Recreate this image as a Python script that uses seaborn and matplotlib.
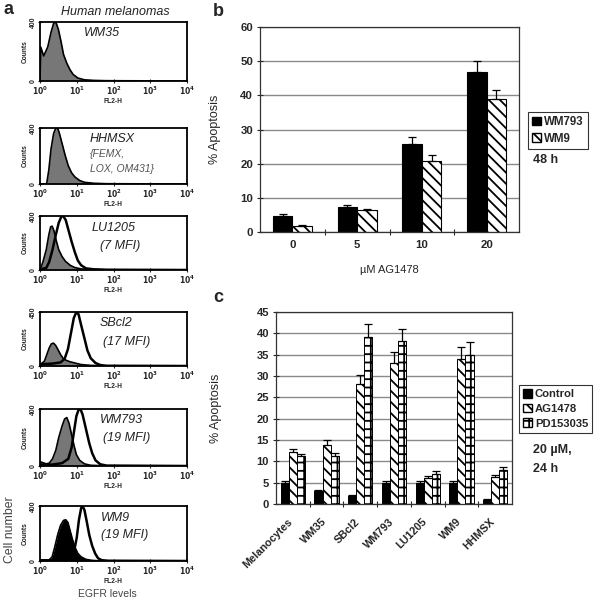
import numpy as np
import pandas as pd
import seaborn as sns
import matplotlib.pyplot as plt
import matplotlib.transforms as mtransforms
from matplotlib.patches import Patch

# ---- panel a: flow histograms (log10 FL2-H, counts) ----
wm35_fill_lx = [0, 0.02, 0.10, 0.21, 0.30, 0.37, 0.43, 0.50, 0.57, 0.64, 0.73, 0.82, 0.90, 1.03, 1.21, 1.47, 1.81, 4.0]
wm35_fill_ct = [0, 230, 170, 230, 330, 390, 400, 350, 270, 180, 120, 75, 45, 20, 8, 4, 2, 0]

hhmsx_fill_lx = [0, 0.18, 0.24, 0.30, 0.37, 0.43, 0.48, 0.53, 0.60, 0.69, 0.77, 0.86, 0.95, 1.08, 1.21, 1.47, 1.81, 4.0]
hhmsx_fill_ct = [0, 0, 100, 250, 360, 400, 400, 360, 290, 200, 130, 80, 50, 25, 12, 5, 2, 0]

lu1205_fill_lx = [0, 0.08, 0.17, 0.24, 0.29, 0.33, 0.38, 0.44, 0.51, 0.60, 0.69, 0.82, 0.95, 1.12, 1.38, 1.81, 4.0]
lu1205_fill_ct = [0, 60, 150, 260, 320, 325, 290, 220, 150, 100, 65, 35, 18, 8, 4, 1, 0]
lu1205_open_lx = [0, 0.17, 0.25, 0.34, 0.43, 0.51, 0.58, 0.63, 0.70, 0.77, 0.86, 0.95, 1.03, 1.12, 1.25, 1.47, 1.81, 4.0]
lu1205_open_ct = [5, 15, 60, 150, 260, 350, 395, 400, 370, 300, 210, 130, 70, 35, 12, 5, 2, 0]

sbcl2_fill_lx = [0, 0.12, 0.18, 0.25, 0.31, 0.37, 0.43, 0.50, 0.57, 0.64, 0.73, 0.82, 0.95, 1.12, 1.38, 1.81, 4.0]
sbcl2_fill_ct = [10, 40, 90, 150, 185, 190, 170, 130, 90, 60, 45, 35, 25, 12, 5, 1, 0]
sbcl2_open_lx = [0, 0.34, 0.56, 0.67, 0.76, 0.84, 0.92, 0.99, 1.05, 1.12, 1.21, 1.29, 1.38, 1.51, 1.64, 1.81, 4.0]
sbcl2_open_ct = [15, 20, 30, 60, 140, 270, 400, 450, 430, 340, 230, 130, 65, 25, 8, 2, 0]

wm793_fill_lx = [0, 0.17, 0.25, 0.34, 0.43, 0.51, 0.60, 0.67, 0.73, 0.79, 0.86, 0.93, 0.99, 1.08, 1.21, 1.38, 1.81, 4.0]
wm793_fill_ct = [30, 15, 20, 50, 110, 200, 280, 330, 340, 300, 220, 140, 80, 40, 15, 5, 1, 0]
wm793_open_lx = [0, 0.34, 0.60, 0.77, 0.86, 0.93, 0.99, 1.05, 1.10, 1.16, 1.25, 1.34, 1.42, 1.51, 1.64, 1.81, 4.0]
wm793_open_ct = [10, 10, 20, 50, 130, 250, 350, 395, 400, 360, 260, 160, 90, 40, 12, 3, 0]

wm9_fill_lx = [0, 0.25, 0.33, 0.40, 0.48, 0.56, 0.64, 0.70, 0.76, 0.82, 0.88, 0.95, 1.03, 1.12, 1.25, 1.40, 1.60, 4.0]
wm9_fill_ct = [5, 8, 30, 100, 190, 260, 295, 300, 280, 220, 160, 100, 55, 30, 12, 5, 1, 0]
wm9_open_lx = [0, 0.50, 0.80, 0.92, 1.00, 1.06, 1.12, 1.16, 1.21, 1.27, 1.34, 1.42, 1.50, 1.58, 1.68, 1.85, 4.0]
wm9_open_ct = [5, 5, 20, 60, 170, 300, 385, 400, 370, 290, 190, 110, 55, 20, 6, 2, 0]

# ---- panel b ----
doses = ['0', '5', '10', '20']
wm793_apo = [4.8, 7.4, 25.9, 46.8]
wm793_err = [0.4, 0.6, 1.8, 3.3]
wm9_apo = [1.9, 6.4, 20.9, 39.0]
wm9_err = [0.1, 0.4, 1.5, 2.7]

# ---- panel c ----
cell_lines = ['Melanocytes', 'WM35', 'SBcl2', 'WM793', 'LU1205', 'WM9', 'HHMSX']
control = [5.0, 3.1, 1.8, 5.0, 5.0, 5.0, 1.0]
control_err = [0.3, 0.2, 0.2, 0.3, 0.3, 0.3, 0.2]
ag1478 = [12.1, 13.9, 28.1, 33.0, 6.2, 34.1, 6.3]
ag1478_err = [0.8, 1.1, 2.2, 2.6, 0.4, 2.8, 0.4]
pd153035 = [11.2, 11.2, 39.1, 38.1, 7.1, 35.0, 8.0]
pd153035_err = [0.6, 0.8, 3.2, 2.9, 0.6, 3.0, 0.7]

W, H = 594, 601
sns.set_theme(style='white')
plt.rcParams['font.family'] = ['Liberation Sans', 'DejaVu Sans']
plt.rcParams['hatch.linewidth'] = 1.3
plt.rcParams['hatch.color'] = 'black'

fig = plt.figure(figsize=(W / 100, H / 100), dpi=100)


def box(l, t, r, b):
    # pixel box -> figure fraction rect
    return [l / W, 1 - b / H, (r - l) / W, (b - t) / H]


def ftext(x, y, s, **kw):
    kw.setdefault('va', 'center')
    fig.text(x / W, 1 - y / H, s, **kw)


# ---------------- panel a ----------------
hist_rows = [(22, 81), (128, 184), (216, 270), (312, 366), (409, 466), (506, 561)]
hists = [
    (wm35_fill_lx, wm35_fill_ct, None, None, '#777777', 400),
    (hhmsx_fill_lx, hhmsx_fill_ct, None, None, '#777777', 400),
    (lu1205_fill_lx, lu1205_fill_ct, lu1205_open_lx, lu1205_open_ct, '#777777', 400),
    (sbcl2_fill_lx, sbcl2_fill_ct, sbcl2_open_lx, sbcl2_open_ct, '#777777', 450),
    (wm793_fill_lx, wm793_fill_ct, wm793_open_lx, wm793_open_ct, '#777777', 400),
    (wm9_fill_lx, wm9_fill_ct, wm9_open_lx, wm9_open_ct, 'black', 400),
]
decades = [1, 10, 100, 1000, 10000]
for (t, b), (flx, fct, olx, oct_, fc, ymax) in zip(hist_rows, hists):
    ax = fig.add_axes(box(40, t, 187, b))
    fx = 10 ** np.array(flx)
    ax.fill_between(fx, fct, color=fc, lw=0)
    sns.lineplot(x=fx, y=fct, color='black', lw=1.2, ax=ax, sort=False)
    if olx is not None:
        sns.lineplot(x=10 ** np.array(olx), y=oct_, color='black', lw=1.8, ax=ax, sort=False)
    ax.set_xscale('log')
    ax.set_xlim(1, 1e4)
    ax.set_ylim(0, ymax)
    ax.set_xticks(decades)
    ax.set_xticklabels([r'$\mathbf{10^{%d}}$' % k for k in range(5)], fontsize=5.5)
    ax.set_yticks([0, ymax])
    ax.set_yticklabels(['0', str(ymax)], rotation=90, va='center', fontsize=5, fontweight='bold')
    ax.tick_params(axis='x', which='major', length=2.5, width=0.8, pad=1, direction='inout')
    ax.tick_params(axis='x', which='minor', length=1.5, width=0.6, direction='in')
    ax.tick_params(axis='y', length=2.5, width=0.8, pad=1, direction='inout')
    ax.tick_params(bottom=True, left=True)
    ax.tick_params(axis='x', which='minor', bottom=True)
    ax.set_xlabel('FL2-H', fontsize=4.8, fontweight='bold', labelpad=1)
    ax.set_ylabel('Counts', fontsize=4.8, fontweight='bold', labelpad=1)
    for s in ax.spines.values():
        s.set_color('black')
        s.set_linewidth(1.3)

lab = dict(style='italic', fontsize=9, color='#222222', ha='left')
ftext(84, 33, 'WM35', **lab)
ftext(90, 139, 'HHMSX', **lab)
ftext(90, 154, '{FEMX,', style='italic', fontsize=7.5, color='#555555', ha='left')
ftext(90, 169, 'LOX, OM431}', style='italic', fontsize=7.5, color='#555555', ha='left')
ftext(92, 228, 'LU1205', **lab)
ftext(100, 246, '(7 MFI)', **lab)
ftext(100, 323, 'SBcl2', **lab)
ftext(103, 342, '(17 MFI)', **lab)
ftext(100, 420, 'WM793', **lab)
ftext(103, 438, '(19 MFI)', **lab)
ftext(101, 518, 'WM9', **lab)
ftext(101, 535, '(19 MFI)', **lab)

ftext(115, 12, 'Human melanomas', style='italic', fontsize=9, ha='center', color='#222222')
ftext(10, 530, 'Cell number', rotation=90, fontsize=8.8, ha='center', color='#444444')
ftext(107, 594, 'EGFR levels', fontsize=7.5, ha='center', color='#444444')
ftext(9, 10, 'a', fontsize=13, fontweight='bold', ha='center')
ftext(218, 12, 'b', fontsize=13, fontweight='bold', ha='center')
ftext(218, 298, 'c', fontsize=13, fontweight='bold', ha='center')


def style_bar_axes(ax, ncat, ymax, ystep):
    ax.set_xlim(-0.5, ncat - 0.5)
    ax.set_ylim(0, ymax)
    ax.set_yticks(np.arange(0, ymax + 0.1, ystep))
    ax.yaxis.grid(True, color='#8a8a8a', lw=1)
    ax.set_axisbelow(True)
    ax.set_xticks(np.arange(0.5, ncat - 0.5), minor=True)
    ax.tick_params(axis='x', which='major', length=0, pad=6)
    ax.tick_params(axis='x', which='minor', length=4, width=0.8, direction='inout', bottom=True)
    ax.tick_params(axis='y', length=4, width=0.8, direction='inout', left=True, pad=3)
    for s in ax.spines.values():
        s.set_color('#333333')
        s.set_linewidth(0.9)
    for lbl in ax.get_yticklabels() + ax.get_xticklabels():
        lbl.set_fontweight('bold')


def add_errbars(ax, errs_list):
    for cont, errs in zip(ax.containers, errs_list):
        xs = [p.get_x() + p.get_width() / 2 for p in cont]
        ys = [p.get_height() for p in cont]
        ax.errorbar(xs, ys, yerr=[np.zeros(len(errs)), errs], fmt='none',
                    ecolor='black', elinewidth=0.9, capsize=2.8, capthick=0.9)


def box_legend(handles, x, y, size):
    leg = fig.legend(handles=handles, loc='upper left', bbox_to_anchor=(x / W, 1 - y / H),
                     frameon=True, fancybox=False, edgecolor='black',
                     handlelength=0.8, handleheight=0.8, handletextpad=0.25,
                     borderpad=0.35, labelspacing=0.4, borderaxespad=0,
                     prop={'weight': 'bold', 'size': size})
    leg.get_frame().set_linewidth(0.8)
    return leg


# ---------------- panel b ----------------
axb = fig.add_axes(box(260, 27, 519, 232))
df_b = pd.DataFrame({'dose': doses * 2,
                     'line': ['WM793'] * 4 + ['WM9'] * 4,
                     'value': wm793_apo + wm9_apo})
sns.barplot(data=df_b, x='dose', y='value', hue='line', order=doses,
            palette=['black', 'white'], edgecolor='black', linewidth=0.8,
            width=0.6, errorbar=None, legend=False, ax=axb)
for p in axb.containers[1]:
    p.set_hatch('\\\\\\')
add_errbars(axb, [wm793_err, wm9_err])
style_bar_axes(axb, 4, 60, 10)
axb.tick_params(labelsize=8.2)
axb.set_ylabel('% Apoptosis', fontsize=9)
axb.yaxis.set_label_coords(-0.15, 0.5)
axb.set_xlabel('\u00b5M AG1478', fontsize=8)
axb.xaxis.set_label_coords(0.5, -0.16)

box_legend([Patch(facecolor='black', edgecolor='black', label='WM793'),
            Patch(facecolor='white', edgecolor='black', hatch='\\\\\\', label='WM9')],
           528, 112, 8.3)
ftext(533, 160, '48 h', fontsize=9, fontweight='bold', ha='left')

# ---------------- panel c ----------------
axc = fig.add_axes(box(276, 312, 512, 504))
df_c = pd.DataFrame({'cell': cell_lines * 3,
                     'treat': ['Control'] * 7 + ['AG1478'] * 7 + ['PD153035'] * 7,
                     'value': control + ag1478 + pd153035})
sns.barplot(data=df_c, x='cell', y='value', hue='treat', order=cell_lines,
            palette=['black', 'white', 'white'], edgecolor='black', linewidth=0.7,
            width=0.72, errorbar=None, legend=False, ax=axc)
for p in axc.containers[1]:
    p.set_hatch('\\\\\\')
for p in axc.containers[2]:
    p.set_hatch('++')
add_errbars(axc, [control_err, ag1478_err, pd153035_err])
style_bar_axes(axc, 7, 45, 5)
axc.tick_params(labelsize=8)
axc.set_xticks(range(7))
axc.set_xticklabels(cell_lines, rotation=45, ha='right', rotation_mode='anchor',
                    fontweight='bold', fontsize=7.8)
shift = mtransforms.ScaledTranslation(-4 / 72, -3 / 72, fig.dpi_scale_trans)
for lbl in axc.get_xticklabels():
    lbl.set_transform(lbl.get_transform() + shift)
axc.set_xlabel('')
axc.set_ylabel('% Apoptosis', fontsize=9)
axc.yaxis.set_label_coords(-0.23, 0.5)

box_legend([Patch(facecolor='black', edgecolor='black', label='Control'),
            Patch(facecolor='white', edgecolor='black', hatch='\\\\\\', label='AG1478'),
            Patch(facecolor='white', edgecolor='black', hatch='++', label='PD153035')],
           519, 385, 8.1)
ftext(533, 450, '20 \u00b5M,', fontsize=9, fontweight='bold', ha='left')
ftext(533, 469, '24 h', fontsize=9, fontweight='bold', ha='left')

fig.savefig('out.png', dpi=100)
